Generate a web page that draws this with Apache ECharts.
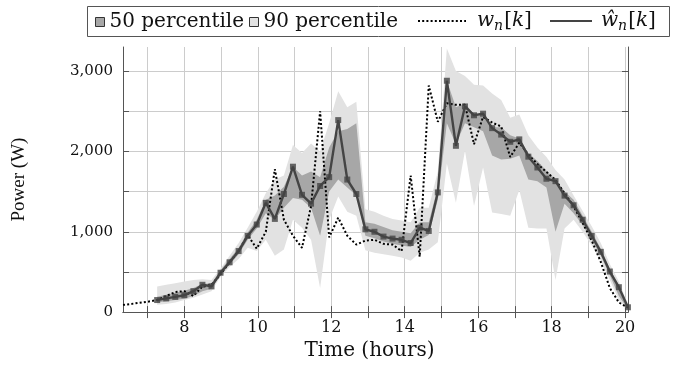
<!doctype html>
<html>
<head>
<meta charset="utf-8">
<title>Power</title>
<script src="https://cdn.jsdelivr.net/npm/echarts@6/dist/echarts.min.js"></script>
<style>
    html, body { margin: 0; padding: 0; background: #fff; }
    #chart { width: 673px; height: 366px; }
</style>
</head>
<body>
<div id="chart"></div>
<script type="text/javascript">
    // samples are 15 min apart, first one a bit after 7:15
    var tStart = 7.26, tStep = 0.2465;

    // estimate w^_n[k]
    var wHat = [150, 170, 190, 210, 260, 340, 320, 490, 620, 760,
        950, 1090, 1360, 1160, 1470, 1810, 1460, 1350, 1570, 1680,
        2390, 1650, 1470, 1030, 1000, 940, 915, 900, 860, 1050,
        1010, 1490, 2880, 2070, 2560, 2450, 2470, 2290, 2210, 2120,
        2150, 1935, 1800, 1660, 1630, 1450, 1330, 1150, 950, 750,
        505, 310, 60];

    // measured w_n[k]
    var w = [150, 200, 250, 260, 200, 320, 340, 470, 620, 760,
        960, 790, 1000, 1780, 1150, 950, 800, 1320, 2500, 930,
        1175, 950, 840, 890, 900, 850, 840, 760, 1700, 690,
        2820, 2370, 2600, 2580, 2580, 2090, 2430, 2360, 2310, 1930,
        2110, 1960, 1845, 1745, 1645, 1480, 1315, 1110, 890, 625,
        300, 120, 55];
    // w_n[k] before the first estimate
    var wHeadTime = [6.33, 6.52, 6.77, 7.01];
    var wHead = [90, 100, 115, 130];

    // 50 percentile band
    var p50lo = [120, 135, 150, 165, 200, 260, 290, 460, 590, 720,
        900, 1040, 1230, 1150, 1300, 1420, 1400, 1300, 950, 1500,
        1650, 1550, 1450, 950, 920, 880, 850, 830, 810, 900,
        960, 1400, 2350, 2090, 2350, 2300, 2250, 1950, 1900, 1910,
        1950, 1650, 1630, 1550, 1000, 1350, 1230, 1080, 900, 700,
        460, 200, 40];
    var p50hi = [190, 215, 240, 265, 300, 350, 360, 520, 660, 800,
        990, 1150, 1400, 1450, 1560, 1810, 1700, 1750, 1680, 2050,
        2250, 2280, 2350, 1120, 1100, 1060, 1020, 1000, 980, 1120,
        1120, 1550, 2880, 2550, 2600, 2460, 2450, 2300, 2300, 2200,
        2160, 1980, 1880, 1760, 1650, 1500, 1400, 1200, 1000, 790,
        540, 330, 80];

    // 90 percentile band
    var p90lo = [90, 100, 120, 150, 180, 220, 260, 440, 560, 660,
        800, 760, 900, 700, 780, 1150, 1050, 900, 300, 1150,
        1440, 1250, 1200, 770, 740, 720, 700, 680, 640, 740,
        780, 870, 1850, 1360, 2010, 1320, 1800, 1240, 1220, 1200,
        1520, 1050, 1040, 1040, 400, 1040, 1150, 1000, 830, 640,
        400, 150, 20];
    var p90hi = [320, 340, 360, 380, 400, 410, 400, 540, 700, 860,
        1050, 1250, 1480, 1650, 1700, 2080, 1980, 2100, 2000, 2350,
        2750, 2550, 2620, 1280, 1250, 1200, 1160, 1140, 1120, 1300,
        1300, 1750, 3280, 3000, 2940, 2830, 2820, 2720, 2640, 2420,
        2460, 2200, 2050, 1930, 1770, 1650, 1450, 1260, 1070, 860,
        600, 380, 100];

    var xTicks = [7, 8, 9, 10, 11, 12, 13, 14, 15, 16, 17, 18, 19, 20];
    var xLabels = [8, 10, 12, 14, 16, 18, 20];
    var yTicks = [0, 500, 1000, 1500, 2000, 2500, 3000];
    var yLabels = [0, 1000, 2000, 3000];

    var serif = 'DejaVu Serif';
    var frame = '#555555';
    var ink = '#111111';

    var times = [];
    for (var i = 0; i < wHat.length; i++) {
        times.push(+(tStart + i * tStep).toFixed(4));
    }

    function pairs(vals) {
        return vals.map(function (v, i) { return [times[i], v]; });
    }

    var wData = wHeadTime.map(function (t, i) { return [t, wHead[i]]; }).concat(pairs(w));

    // shaded band between lo and hi, one polygon
    function band(name, lo, hi, color, z) {
        return {
            name: name, type: 'custom', z: z, silent: true, clip: true,
            itemStyle: { color: color },
            data: times.map(function (t, i) { return [t, lo[i], hi[i]]; }),
            encode: { x: 0, y: [1, 2] },
            renderItem: function (params, api) {
                if (params.dataIndex !== 0) return null;
                var top = [], bottom = [];
                for (var k = 0; k < times.length; k++) {
                    top.push(api.coord([times[k], hi[k]]));
                    bottom.unshift(api.coord([times[k], lo[k]]));
                }
                return {
                    type: 'polygon',
                    shape: { points: top.concat(bottom) },
                    style: { fill: color }
                };
            }
        };
    }

    function mathName(name) {
        if (name === 'w') return '{i|w}{s|n}{r|[}{i|k}{r|]}';
        return '{i|ŵ}{s|n}{r|[}{i|k}{r|]}';
    }
    var rich = {
        i: { fontFamily: serif, fontStyle: 'italic', fontSize: 20, color: ink, lineHeight: 24 },
        r: { fontFamily: serif, fontSize: 20, color: ink, lineHeight: 24 },
        s: { fontFamily: serif, fontStyle: 'italic', fontSize: 14, color: ink, lineHeight: 24,
             verticalAlign: 'bottom', padding: [0, 1, 0, 0] }
    };

    var legendText = { fontFamily: serif, fontSize: 20, color: ink };

    var xAxisBase = {
        type: 'value', min: 6.33, max: 20.08,
        axisLine: { show: true, lineStyle: { color: frame, width: 1 } },
        axisTick: { inside: true, length: 6, customValues: xTicks, lineStyle: { color: frame } },
        splitLine: { show: true, lineStyle: { color: '#cccccc', width: 1 } }
    };
    var yAxisBase = {
        type: 'value', min: 0, max: 3300,
        axisLine: { show: true, lineStyle: { color: frame, width: 1 } },
        axisTick: { show: true, inside: true, length: 6, customValues: yTicks, lineStyle: { color: frame } },
        splitLine: { show: true, lineStyle: { color: '#cccccc', width: 1 } }
    };

    var chart = echarts.init(document.getElementById('chart'));
    var option = {
        animation: false,
        backgroundColor: '#fff',
        grid: { left: 123, right: 45, top: 47, bottom: 47 },
        legend: [{
            data: ['50 percentile'], left: 90, top: 7,
            icon: 'rect', itemWidth: 9, itemHeight: 9,
            itemStyle: { borderColor: '#333', borderWidth: 1 },
            textStyle: legendText, selectedMode: false
        }, {
            data: ['90 percentile'], left: 244, top: 7,
            icon: 'rect', itemWidth: 9, itemHeight: 9,
            itemStyle: { borderColor: '#333', borderWidth: 1 },
            textStyle: legendText, selectedMode: false
        }, {
            data: [{ name: 'w', itemStyle: { opacity: 0 } }], left: 412, top: 6,
            itemWidth: 48, itemHeight: 12,
            formatter: mathName, textStyle: { rich: rich, padding: [0, 0, 0, 6] },
            selectedMode: false
        }, {
            data: [{ name: 'what', itemStyle: { opacity: 0 } }], left: 544, top: 6,
            itemWidth: 42, itemHeight: 12,
            formatter: mathName, textStyle: { rich: rich, padding: [0, 0, 0, 4] },
            selectedMode: false
        }],
        graphic: [{
            type: 'rect', left: 85, top: 4, z: 100,
            shape: { width: 582, height: 30 },
            style: { fill: null, stroke: '#555', lineWidth: 1 }
        }],
        xAxis: [
            echarts.util.merge({
                position: 'bottom',
                name: 'Time (hours)', nameLocation: 'middle', nameGap: 26,
                nameTextStyle: { fontFamily: serif, fontSize: 20, color: ink, padding: [0, 12, 0, 0] },
                axisLabel: {
                    customValues: xLabels, margin: 8,
                    fontFamily: serif, fontSize: 16, color: ink
                }
            }, xAxisBase, true),
            echarts.util.merge({
                position: 'top', axisLabel: { show: false }
            }, echarts.util.merge({}, xAxisBase, true), true)
        ],
        yAxis: [
            echarts.util.merge({
                position: 'left',
                name: 'Power (W)', nameLocation: 'middle', nameGap: 94, nameRotate: 90,
                nameTextStyle: { fontFamily: 'Liberation Serif', fontSize: 19, color: ink },
                axisLabel: {
                    customValues: yLabels, margin: 10,
                    fontFamily: serif, fontSize: 15, color: ink,
                    formatter: function (v) { return v.toLocaleString('en-US'); }
                }
            }, yAxisBase, true),
            echarts.util.merge({
                position: 'right', axisLabel: { show: false }
            }, echarts.util.merge({}, yAxisBase, true), true)
        ],
        series: [
            band('90 percentile', p90lo, p90hi, '#e2e2e2', 1),
            band('50 percentile', p50lo, p50hi, '#a7a7a7', 2),
            {
                name: 'w', type: 'line', data: wData, symbol: 'none', z: 3,
                itemStyle: { color: '#000' },
                lineStyle: { color: '#000', width: 2, type: [2, 2.2] }
            },
            {
                name: 'what', type: 'line', data: pairs(wHat), symbol: 'none', z: 4,
                itemStyle: { color: '#444' },
                lineStyle: { color: '#444', width: 2.4 }
            },
            {
                name: 'marks', type: 'scatter', data: pairs(wHat), z: 5,
                symbol: 'rect', symbolSize: 6,
                itemStyle: { color: '#444' }
            }
        ]
    };
    chart.setOption(option);
</script>
</body>
</html>
